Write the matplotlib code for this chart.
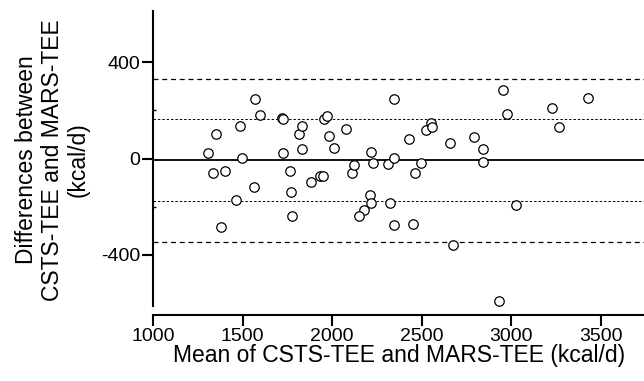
import numpy as np
import matplotlib
matplotlib.use("Agg")
import matplotlib.pyplot as plt

plt.rcParams['font.family'] = ['Liberation Sans', 'DejaVu Sans']
plt.rcParams['axes.unicode_minus'] = False

# mean of the two methods (kcal/d)
mean_tee = [1306, 1332, 1351, 1401, 1381, 1461, 1485, 1496, 1561, 1570,
            1595, 1718, 1727, 1725, 1764, 1768, 1774, 1813, 1830, 1833,
            1880, 1934, 1947, 1952, 1971, 1984, 2008, 2077, 2111, 2120,
            2215, 2230, 2211, 2218, 2179, 2148, 2311, 2321, 2345, 2347,
            2347, 2431, 2450, 2463, 2496, 2526, 2550, 2556, 2656, 2677,
            2790, 2841, 2841, 2934, 2956, 2975, 3027, 3226, 3265, 3429]
# difference CSTS-TEE minus MARS-TEE (kcal/d)
diff_tee = [22, -59, 100, -53, -285, -172, 136, 2, -118, 248,
            179, 169, 164, 23, -51, -140, -237, 100, 134, 41,
            -96, -73, -73, 164, 175, 95, 45, 124, -59, -26,
            26, -19, -151, -186, -215, -240, -21, -186, 248, 3,
            -275, 80, -272, -61, -17, 118, 149, 132, 63, -360,
            88, 38, -13, -593, 284, 185, -192, 211, 129, 252]

bias = -6
sd1 = [164, -178]
sd2 = [332, -348]

xticks = [1000, 1500, 2000, 2500, 3000, 3500]
yticks = [-400, 0, 400]

fig = plt.figure(figsize=(6.44, 3.81), dpi=100)
ax = fig.add_axes([153.2/644, 66.3/381, 1 - 153.2/644, (314.7-5)/381])

ax.set_xlim(1000, 3742)
ax.set_ylim(-648, 637)

ax.axhline(bias, color='k', lw=1.3, zorder=1)
for v in sd1:
    ax.axhline(v, color='k', lw=0.7, ls=(0, (2.5, 2)), zorder=1)
for v in sd2:
    ax.axhline(v, color='k', lw=0.9, ls=(0, (4, 3)), zorder=1)

ax.plot(mean_tee, diff_tee, 'o', mfc='white', mec='k', ms=6.8, mew=0.9,
        ls='none', zorder=3)

for s in ['top', 'right']:
    ax.spines[s].set_visible(False)
ax.spines['left'].set_bounds(-612, 612)
ax.spines['left'].set_linewidth(1.5)
ax.spines['bottom'].set_linewidth(1.5)

ax.set_xticks(xticks)
ax.set_yticks(yticks)
ax.set_yticks([-200, 200], minor=True)
ax.tick_params(axis='both', which='major', length=8, width=1.5,
               labelsize=14, pad=1.5)
ax.tick_params(axis='y', which='minor', length=2, width=1, direction='in')

ax.set_xlabel('Mean of CSTS-TEE and MARS-TEE (kcal/d)', fontsize=16.5,
              labelpad=-1)
ax.set_ylabel('Differences between\nCSTS-TEE and MARS-TEE\n(kcal/d)',
              fontsize=16.5, labelpad=8, linespacing=1.15)

fig.savefig('out.png', dpi=100)
